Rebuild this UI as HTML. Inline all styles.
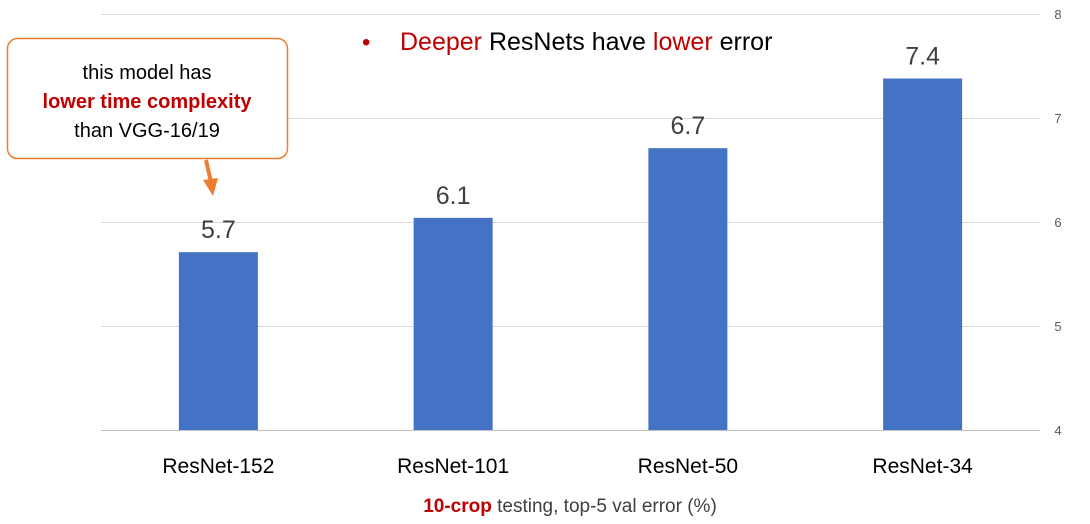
<!DOCTYPE html>
<html><head><meta charset="utf-8"><style>
body{margin:0;background:#fff;font-family:"Liberation Sans",sans-serif}
svg text{font-family:"Liberation Sans",sans-serif}
</style></head><body>
<svg id="c" width="1090" height="519">
<g id="grid"></g><g id="bars"></g><g id="labels"></g>
<text x="362" y="50" font-size="24" fill="#C00000">•</text>
<text x="400" y="50" font-size="25" fill="#000"><tspan fill="#C00000">Deeper</tspan> ResNets have <tspan fill="#C00000">lower</tspan> error</text>
<text x="570" y="512" font-size="19" text-anchor="middle" fill="#404040"><tspan fill="#C00000" font-weight="bold">10-crop</tspan> testing, top-5 val error (%)</text>
<g>
<rect x="7.5" y="38.5" width="280" height="120" rx="10" fill="#fff" stroke="#ED7D31" stroke-width="1.5"/>
<text x="147" y="79" font-size="20" text-anchor="middle" fill="#000">this model has</text>
<text x="147" y="108" font-size="20" text-anchor="middle" fill="#C00000" font-weight="bold">lower time complexity</text>
<text x="147" y="137" font-size="20" text-anchor="middle" fill="#000">than VGG-16/19</text>
<line x1="206" y1="160" x2="211" y2="182" stroke="#ED7D31" stroke-width="4"/>
<polygon points="203,180 218,178 213,196" fill="#ED7D31"/>
</g>
</svg>
<script>
const categories=["ResNet-152","ResNet-101","ResNet-50","ResNet-34"];
const values=[5.71,6.04,6.71,7.38];
const valueLabels=["5.7","6.1","6.7","7.4"];
const ticks=[4,5,6,7,8];
const NS="http://www.w3.org/2000/svg";
const x0=101,x1=1040,yMin=4,yMax=8,py0=430,py1=14;
const y=v=>py0-(v-yMin)/(yMax-yMin)*(py0-py1);
const band=(x1-x0)/categories.length;
const xc=i=>x0+band*(i+0.5);
function mk(t,a,p){const e=document.createElementNS(NS,t);for(const k in a)e.setAttribute(k,a[k]);p.appendChild(e);return e;}
const g=document.getElementById('grid'),b=document.getElementById('bars'),l=document.getElementById('labels');
ticks.forEach(t=>{
 const ln=mk('line',{x1:x0,x2:x1,y1:y(t)+0.5,y2:y(t)+0.5,stroke:t===4?'#bfbfbf':'#d9d9d9','stroke-width':1},g);
 
 
 const tx=mk('text',{x:1058,y:y(t)+5,'font-size':13,fill:'#595959','text-anchor':'middle'},g);
 tx.textContent=t;
 
 
});
const bw=79;
categories.forEach((c,i)=>{
 const r=mk('rect',{x:xc(i)-bw/2,y:y(values[i]),width:bw,height:py0-y(values[i]),fill:'#4472C4'},b);
 
 
 const v=mk('text',{x:xc(i),y:y(values[i])-14,'font-size':25,fill:'#404040','text-anchor':'middle'},l);
 v.textContent=valueLabels[i];
 
 
 const cl=mk('text',{x:xc(i),y:473,'font-size':21,fill:'#000','text-anchor':'middle'},l);
 cl.textContent=c;
 
 
});
</script>
</body></html>
